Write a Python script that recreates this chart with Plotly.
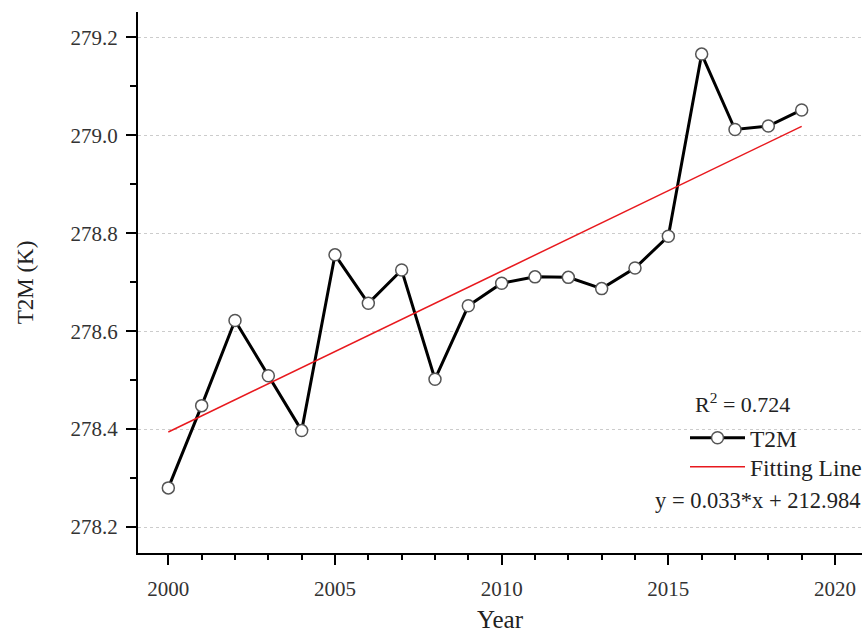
import numpy as np
import plotly.graph_objects as go

years = list(range(2000, 2020))
t2m = [278.280, 278.448, 278.622, 278.509, 278.397, 278.756, 278.657, 278.725,
       278.502, 278.652, 278.698, 278.711, 278.710, 278.687, 278.729, 278.794,
       279.166, 279.012, 279.019, 279.052]
x_ticks = [2000, 2005, 2010, 2015, 2020]
y_ticks = [278.2, 278.4, 278.6, 278.8, 279.0, 279.2]

slope, intercept = np.polyfit(years, t2m, 1)
fit_x = [years[0], years[-1]]
fit_y = [slope * v + intercept for v in fit_x]

FONT = "Liberation Serif"

fig = go.Figure()
fig.add_trace(go.Scatter(
    x=years, y=t2m, mode="lines+markers", name="T2M", legend="legend",
    line=dict(color="black", width=3),
    marker=dict(symbol="circle", size=12, color="white",
                line=dict(color="#555555", width=1.5)),
))
fig.add_trace(go.Scatter(
    x=fit_x, y=fit_y, mode="lines", name="Fitting Line", legend="legend2",
    line=dict(color="#e8191e", width=1.5),
))

legend_common = dict(
    xanchor="left", yanchor="middle", bgcolor="rgba(0,0,0,0)",
    font=dict(family=FONT, size=23.5, color="#222222"),
    itemclick=False, itemwidth=55,
)

fig.update_layout(
    width=862, height=633,
    margin=dict(l=138, r=0, t=12, b=80, autoexpand=False),
    plot_bgcolor="white", paper_bgcolor="white",
    font=dict(family=FONT, size=21, color="#333333"),
    showlegend=True,
    legend=dict(x=(685 - 138) / 724, y=(553 - 438) / 541, **legend_common),
    legend2=dict(x=(685 - 138) / 724, y=(553 - 467) / 541, **legend_common),
    xaxis=dict(
        range=[1999.09, 2020.81], tickvals=x_ticks, ticktext=[str(v) for v in x_ticks],
        showline=True, linecolor="black", linewidth=2, mirror=False,
        ticks="outside", ticklen=10, tickwidth=2, tickcolor="black",
        minor=dict(dtick=1, tick0=2000, ticks="outside", ticklen=5, tickwidth=2,
                   tickcolor="black", showgrid=False),
        showgrid=False, zeroline=False, automargin=False,
        ticklabelstandoff=6,
        title=dict(text="Year", font=dict(family=FONT, size=25, color="#222222"),
                   standoff=20),
    ),
    yaxis=dict(
        range=[278.147, 279.252], tickvals=y_ticks,
        ticktext=[f"{v:.1f}" for v in y_ticks],
        showline=True, linecolor="black", linewidth=2, mirror=False,
        ticks="outside", ticklen=10, tickwidth=2, tickcolor="black",
        minor=dict(dtick=0.1, tick0=278.2, ticks="outside", ticklen=6, tickwidth=2,
                   tickcolor="black", showgrid=False),
        showgrid=True, gridcolor="#cccccc", gridwidth=1, griddash="dot",
        zeroline=False, automargin=False,
        ticklabelstandoff=4,
        title=dict(text="T2M (K)", font=dict(family=FONT, size=23, color="#222222"),
                   standoff=30),
    ),
)

fig.add_annotation(
    xref="paper", yref="paper", x=(693 - 138) / 724, y=(553 - 403) / 541,
    xanchor="left", yanchor="middle", showarrow=False,
    text="R<sup>2</sup> = 0.724", font=dict(family=FONT, size=22, color="#222222"),
)
fig.add_annotation(
    xref="paper", yref="paper", x=(653 - 138) / 724, y=(553 - 500) / 541,
    xanchor="left", yanchor="middle", showarrow=False,
    text="y = 0.033*x + 212.984", font=dict(family=FONT, size=22.5, color="#222222"),
)

fig.write_html("out.html")
